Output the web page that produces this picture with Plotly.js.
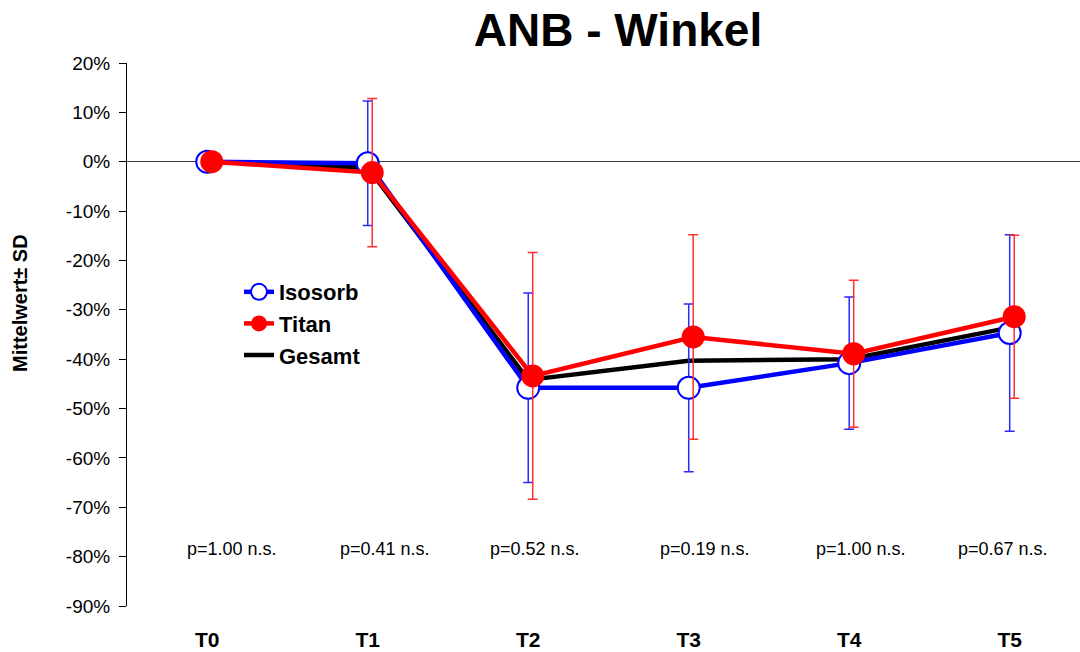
<!DOCTYPE html>
<html>
<head>
<meta charset="utf-8">
<script src="https://cdn.plot.ly/plotly-3.0.1.min.js"></script>
<style>
  html, body { margin: 0; padding: 0; background: #ffffff; }
  #chart { width: 1080px; height: 652px; }
</style>
</head>
<body>
<div id="chart"></div>
<script>
// Measurement times
const categories = ['T0', 'T1', 'T2', 'T3', 'T4', 'T5'];

// Relative change of the ANB angle (%), mean and standard deviation per group
const isosorbMean = [0, -0.3, -45.8, -45.8, -40.8, -34.7];
const isosorbSD   = [0, 12.6, 19.2, 17.0, 13.4, 19.9];
const titanMean   = [0, -2.2, -43.4, -35.5, -38.9, -31.4];
const titanSD     = [0, 15.0, 25.0, 20.7, 14.9, 16.5];
const gesamtMean  = [0, -1.2, -44.2, -40.3, -40.0, -33.6];

// Group comparison per time point
const pLabels = ['p=1.00 n.s.', 'p=0.41 n.s.', 'p=0.52 n.s.', 'p=0.19 n.s.', 'p=1.00 n.s.', 'p=0.67 n.s.'];

// Y axis ticks
const yTickVals = [20, 10, 0, -10, -20, -30, -40, -50, -60, -70, -80, -90];
const yTickText = ['20%', '10%', '0%', '-10%', '-20%', '-30%', '-40%', '-50%', '-60%', '-70%', '-80%', '-90%'];

// ---- layout helpers (not data) ----
const FONT = 'Liberation Sans, Arial, Helvetica, sans-serif';
const idx = categories.map((c, i) => i);
const titanShift = 0.028;              // small dodge so both markers stay visible
const pLabelShift = [0.154, 0.107, 0.042, 0.100, 0.072, -0.043];

const traces = [
  {
    name: 'Gesamt',
    x: idx,
    y: gesamtMean,
    mode: 'lines',
    line: { color: '#000000', width: 4.5 },
    legendrank: 3,
    hoverinfo: 'skip'
  },
  {
    name: 'Isosorb',
    x: idx,
    y: isosorbMean,
    mode: 'lines+markers',
    line: { color: '#0000FF', width: 4.5 },
    marker: { symbol: 'circle', size: 22, color: '#FFFFFF', line: { color: '#0000FF', width: 2 } },
    error_y: { type: 'data', array: isosorbSD, visible: true, color: '#2a2aff', thickness: 1.5, width: 5 },
    legendrank: 1,
    hoverinfo: 'skip'
  },
  {
    name: 'Titan',
    x: idx.map(i => i + titanShift),
    y: titanMean,
    mode: 'lines+markers',
    line: { color: '#FF0000', width: 4.5 },
    marker: { symbol: 'circle', size: 23, color: '#FF0000', line: { color: '#FF0000', width: 0 } },
    error_y: { type: 'data', array: titanSD, visible: true, color: '#ff3030', thickness: 1.5, width: 5 },
    legendrank: 2,
    hoverinfo: 'skip'
  }
];

const annotations = pLabels.map((t, i) => ({
  x: i + pLabelShift[i],
  y: -78.5,
  xref: 'x',
  yref: 'y',
  text: t,
  showarrow: false,
  xanchor: 'center',
  yanchor: 'middle',
  font: { family: FONT, size: 18, color: '#000000' }
}));

// rotated axis caption, placed in paper fractions of the 953x543 plot area
annotations.push({
  x: (20 - 127) / 953,
  y: (606 - 303) / 543,
  xref: 'paper',
  yref: 'paper',
  xanchor: 'center',
  yanchor: 'middle',
  text: '<b>Mittelwert± SD</b>',
  textangle: -90,
  showarrow: false,
  font: { family: FONT, size: 20, color: '#000000' }
});

const layout = {
  width: 1080,
  height: 652,
  paper_bgcolor: '#FFFFFF',
  plot_bgcolor: '#FFFFFF',
  margin: { l: 127, r: 0, t: 63, b: 46, pad: 0 },
  font: { family: FONT, color: '#000000' },
  title: {
    text: '<b>ANB - Winkel</b>',
    font: { family: FONT, size: 46, color: '#000000' },
    xref: 'container',
    yref: 'container',
    x: 618 / 1080,
    xanchor: 'center',
    y: 1 - 30 / 652,
    yanchor: 'middle'
  },
  xaxis: {
    range: [-0.5, 5.438],
    tickvals: idx,
    ticktext: categories.map(c => '<b>' + c + '</b>'),
    tickfont: { family: FONT, size: 21, color: '#000000' },
    showline: false,
    showgrid: false,
    zeroline: false,
    ticks: '',
    ticklabelstandoff: 19,
    fixedrange: true
  },
  yaxis: {
    range: [-90, 20],
    tickvals: yTickVals,
    ticktext: yTickText,
    tickfont: { family: FONT, size: 19, color: '#000000' },
    showline: true,
    linecolor: '#000000',
    linewidth: 1,
    ticks: 'outside',
    ticklen: 7,
    tickwidth: 1,
    tickcolor: '#000000',
    showgrid: false,
    zeroline: true,
    zerolinecolor: '#404040',
    zerolinewidth: 1,
    ticklabelstandoff: 5,
    fixedrange: true
  },
  showlegend: true,
  legend: {
    x: (239 - 127) / 953,
    xanchor: 'left',
    y: (606 - 271) / 543,
    yanchor: 'top',
    bgcolor: 'rgba(0,0,0,0)',
    borderwidth: 0,
    font: { family: FONT, size: 22, color: '#000000' },
    itemclick: false,
    itemdoubleclick: false
  },
  annotations: annotations
};

// Legend entries in bold
traces.forEach(t => { t.name = '<b>' + t.name + '</b>'; });

Plotly.newPlot('chart', traces, layout, { staticPlot: true, displayModeBar: false });
</script>
</body>
</html>
